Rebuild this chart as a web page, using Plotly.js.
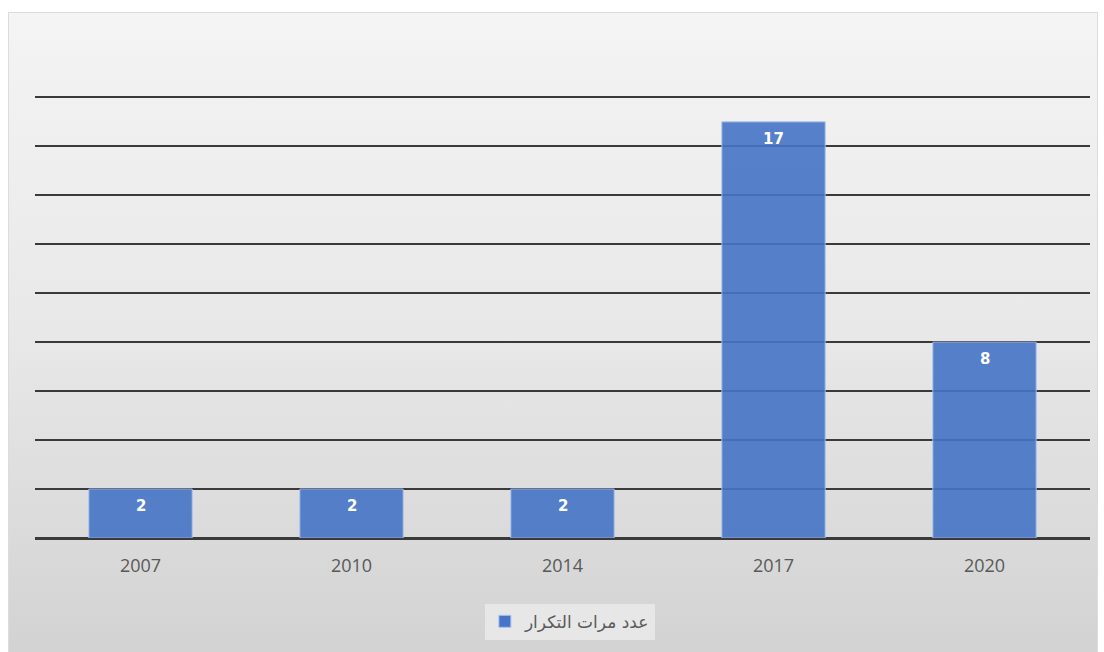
<!DOCTYPE html>
<html>
<head>
<meta charset="utf-8">
<script src="https://cdn.plot.ly/plotly-3.0.1.min.js"></script>
<style>
  html, body { margin: 0; padding: 0; background: #ffffff; }
  #wrap { position: relative; width: 1104px; height: 652px; overflow: hidden; }
  #bg { position: absolute; left: 8px; top: 12px; width: 1088px; height: 645px;
        border: 1px solid #dcdcdc;
        background: linear-gradient(to bottom, #f4f4f4 0%, #e8e8e8 50%, #d2d2d2 100%); }
  #chart { position: absolute; left: 0; top: 0; width: 1104px; height: 652px; }
</style>
</head>
<body>
<div id="wrap">
  <div id="bg"></div>
  <div id="chart"></div>
</div>
<script>
const categories = ['2007', '2010', '2014', '2017', '2020'];
const values = [2, 2, 2, 17, 8];
const seriesName = 'عدد مرات التكرار';
const yTicks = [0, 2, 4, 6, 8, 10, 12, 14, 16, 18];

const trace = {
  type: 'bar',
  x: categories,
  y: values,
  name: seriesName,
  marker: { color: '#4674c6', opacity: 0.9, line: { color: '#a8c3ee', width: 1 } },
  hoverinfo: 'none',
  showlegend: true
};

// annotations on a category axis: use the category index
const annotations = categories.map((c, i) => ({
  x: i, y: values[i], xref: 'x', yref: 'y',
  text: '<b>' + values[i] + '</b>',
  showarrow: false, yanchor: 'middle', yshift: -17,
  font: { family: 'DejaVu Sans, sans-serif', size: 15, color: '#ffffff' }
}));

const layout = {
  width: 1104, height: 652,
  margin: { l: 35, r: 14, t: 90, b: 114 },
  paper_bgcolor: 'rgba(0,0,0,0)',
  plot_bgcolor: 'rgba(0,0,0,0)',
  bargap: 0.51,
  xaxis: {
    type: 'category',
    categoryorder: 'array',
    categoryarray: categories,
    range: [-0.5, categories.length - 0.5],
    showgrid: false,
    showline: false,
    zeroline: false,
    ticks: '',
    tickfont: { family: 'Open Sans, sans-serif', size: 18, color: '#595959' },
    ticklabelstandoff: 15
  },
  yaxis: {
    range: [0, 18.3],
    tickvals: yTicks,
    showticklabels: false,
    showgrid: true,
    gridcolor: '#3a3a3a',
    gridwidth: 2,
    zeroline: true,
    zerolinecolor: '#3a3a3a',
    zerolinewidth: 3,
    showline: false,
    ticks: ''
  },
  showlegend: true,
  legend: {
    orientation: 'h',
    x: 0.507, xanchor: 'center',
    y: -0.187, yanchor: 'middle',
    bgcolor: 'rgba(235,235,235,0.8)',
    font: { family: 'DejaVu Sans, sans-serif', size: 17, color: '#595959' }
  },
  annotations: annotations
};

Plotly.newPlot('chart', [trace], layout, { displayModeBar: false, staticPlot: true });
</script>
</body>
</html>
